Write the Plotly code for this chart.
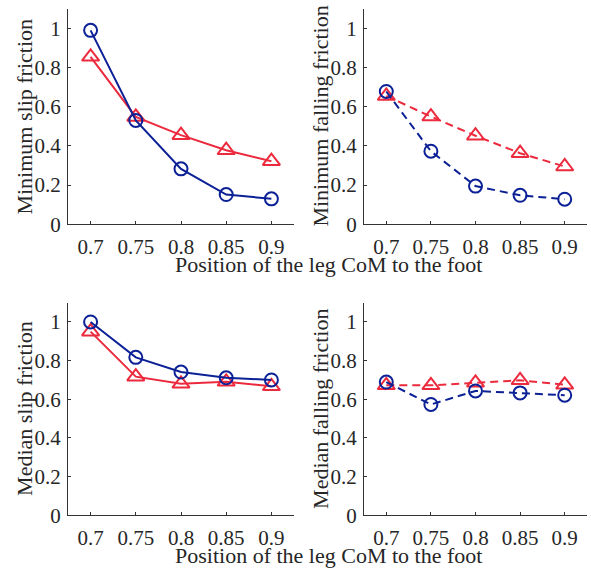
import plotly.graph_objects as go

# Data
positions = [0.7, 0.75, 0.8, 0.85, 0.9]
x_tick_labels = ["0.7", "0.75", "0.8", "0.85", "0.9"]
y_tick_vals = [0, 0.2, 0.4, 0.6, 0.8, 1.0]
y_tick_labels = ["0", "0.2", "0.4", "0.6", "0.8", "1"]

min_slip_blue = [0.99, 0.53, 0.283, 0.152, 0.13]
min_slip_red = [0.855, 0.548, 0.455, 0.378, 0.322]
min_fall_blue = [0.678, 0.373, 0.195, 0.148, 0.128]
min_fall_red = [0.655, 0.55, 0.452, 0.363, 0.295]
med_slip_blue = [1.0, 0.817, 0.741, 0.711, 0.70]
med_slip_red = [0.95, 0.717, 0.68, 0.69, 0.667]
med_fall_blue = [0.689, 0.573, 0.643, 0.633, 0.621]
med_fall_red = [0.672, 0.672, 0.685, 0.698, 0.675]

y_titles = ["Minimum slip friction", "Minimum falling friction",
            "Median slip friction", "Median falling friction"]
x_title = "Position of the leg CoM to the foot"

BLUE = "#0c2196"
RED = "#ec2a3d"
FONT = "Liberation Serif"
TXT = "#262626"

W, H = 591, 584
# pixel boxes for each panel: (left, right, top, bottom)
boxes = [(68, 294, 9, 229), (364, 587, 9, 229), (68, 294, 309, 526), (364, 587, 309, 526)]

fig = go.Figure()

panels = [
    (min_slip_blue, min_slip_red, "solid"),
    (min_fall_blue, min_fall_red, "8px,5px"),
    (med_slip_blue, med_slip_red, "solid"),
    (med_fall_blue, med_fall_red, "8px,5px"),
]

for i, (blue, red, dash) in enumerate(panels):
    n = "" if i == 0 else str(i + 1)
    xa, ya = "x" + n, "y" + n
    fig.add_trace(go.Scatter(
        x=positions, y=red, xaxis=xa, yaxis=ya, mode="lines+markers",
        line=dict(color=RED, width=2, dash=dash),
        marker=dict(symbol="triangle-up-open", size=15, color=RED, line=dict(width=2, color=RED)),
        showlegend=False, cliponaxis=False))
    fig.add_trace(go.Scatter(
        x=positions, y=blue, xaxis=xa, yaxis=ya, mode="lines+markers",
        line=dict(color=BLUE, width=2, dash=dash),
        marker=dict(symbol="circle-open", size=13, color=BLUE, line=dict(width=2, color=BLUE)),
        showlegend=False, cliponaxis=False))

layout = dict(
    width=W, height=H, margin=dict(l=0, r=0, t=0, b=0),
    paper_bgcolor="white", plot_bgcolor="white",
    font=dict(family=FONT, size=21, color=TXT),
)
annotations = []
for i, (l, r, t, b) in enumerate(boxes):
    n = "" if i == 0 else str(i + 1)
    layout["xaxis" + n] = dict(
        domain=[l / W, r / W], range=[0.675, 0.925], anchor="y" + n,
        tickvals=positions, ticktext=x_tick_labels,
        showline=True, linecolor="#333333", linewidth=1, mirror=False,
        ticks="inside", ticklen=3, tickcolor="#333333",
        showgrid=False, zeroline=False, ticklabelstandoff=4,
        tickfont=dict(family=FONT, size=21, color=TXT))
    layout["yaxis" + n] = dict(
        domain=[1 - b / H, 1 - t / H], range=[0, 1.1], anchor="x" + n,
        tickvals=y_tick_vals, ticktext=y_tick_labels,
        showline=True, linecolor="#333333", linewidth=1, mirror=False,
        ticks="inside", ticklen=3, tickcolor="#333333",
        showgrid=False, zeroline=False, ticklabelstandoff=2,
        tickfont=dict(family=FONT, size=21, color=TXT))
    annotations.append(dict(
        text=y_titles[i], textangle=-90, showarrow=False,
        xref="paper", yref="paper",
        x=(l - 43) / W, y=1 - (t + b) / 2 / H,
        xanchor="center", yanchor="middle",
        font=dict(family=FONT, size=22, color=TXT)))

for yc in (270, 567):
    annotations.append(dict(
        text=x_title, showarrow=False, xref="paper", yref="paper",
        x=328 / W, y=1 - yc / H, xanchor="center", yanchor="middle",
        font=dict(family=FONT, size=22, color=TXT)))

layout["annotations"] = annotations
fig.update_layout(**layout)
css = ("var s=document.createElement('style');"
       "s.textContent='html,body{margin:0;padding:0;overflow:hidden;}"
       ".plotly-graph-div{position:fixed;top:0;left:0;}';"
       "document.head.appendChild(s);")
fig.write_html("out.html", config={"displayModeBar": False}, post_script=css)
